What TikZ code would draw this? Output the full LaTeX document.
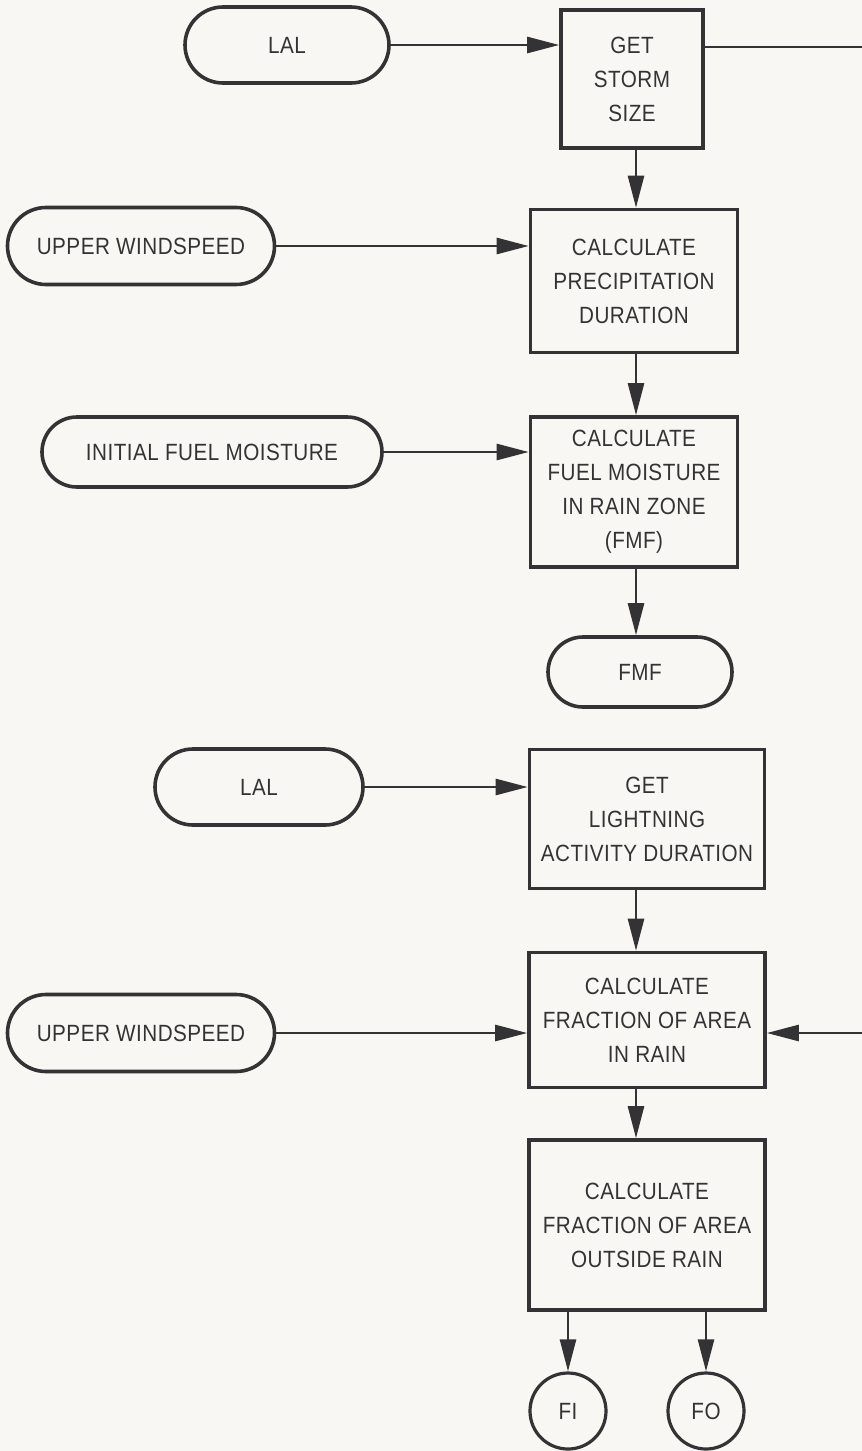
\documentclass[tikz,border=0pt]{standalone}
\usepackage{fontspec}
\setmainfont{Liberation Sans}[FakeStretch=0.88, LetterSpace=2]
\usetikzlibrary{shapes.misc,arrows.meta}
\definecolor{ink}{HTML}{333335}
\definecolor{paper}{HTML}{F8F7F3}
\begin{document}
\begin{tikzpicture}[x=1pt, y=-1pt,
        every node/.style = {font=\fontsize{23.5}{34}\selectfont, text=ink, align=center, inner sep=0pt},
        procbox/.style = {draw=ink, line width=3.6pt, rectangle},
        termbox/.style = {draw=ink, line width=3.6pt, rounded rectangle},
        endcirc/.style = {draw=ink, line width=3.2pt, circle, minimum size=76pt},
        flow/.style = {draw=ink, line width=2.6pt, -{Triangle[length=32pt, width=16pt]}}
    ]
        \useasboundingbox (0,0) rectangle (862,1451);
        \fill[paper] (0,0) rectangle (862,1451);

        % upper chain
        \node[termbox, minimum width=204pt, minimum height=76pt] (lal1) at (287,45) {LAL};
        \node[procbox, minimum width=142pt, minimum height=138pt] (storm) at (632,79) {GET\\STORM\\SIZE};
        \node[termbox, minimum width=267pt, minimum height=77pt] (wind1) at (141,246) {UPPER WINDSPEED};
        \node[procbox, minimum width=207pt, minimum height=143pt] (precip) at (634,281) {CALCULATE\\PRECIPITATION\\DURATION};
        \node[termbox, minimum width=340pt, minimum height=70pt] (initfm) at (212,452) {INITIAL FUEL MOISTURE};
        \node[procbox, minimum width=207pt, minimum height=150pt] (moist) at (634,492) {CALCULATE\\FUEL MOISTURE\\IN RAIN ZONE\\(FMF)};
        \node[termbox, minimum width=184pt, minimum height=70pt] (fmf) at (640,672) {FMF};
        \coordinate (stormout) at (862,47);

        % lower chain
        \node[termbox, minimum width=208pt, minimum height=76pt] (lal2) at (259,787) {LAL};
        \node[procbox, minimum width=235pt, minimum height=139pt] (light) at (647,819) {GET\\LIGHTNING\\ACTIVITY DURATION};
        \node[termbox, minimum width=267pt, minimum height=77pt] (wind2) at (141,1033) {UPPER WINDSPEED};
        \node[procbox, minimum width=236pt, minimum height=135pt] (inrain) at (647,1020) {CALCULATE\\FRACTION OF AREA\\IN RAIN};
        \node[procbox, minimum width=236pt, minimum height=170pt] (outrain) at (647,1225) {CALCULATE\\FRACTION OF AREA\\OUTSIDE RAIN};
        \node[endcirc] (fi) at (568,1411) {FI};
        \node[endcirc] (fo) at (706,1411) {FO};
        \coordinate (rainin) at (862,1033);

        \draw[flow] (lal1.east) -- (lal1.east -| storm.west);
        \draw[draw=ink, line width=2.6pt] (stormout -| storm.east) -- (stormout);
        \draw[flow] (storm.south -| 636,0) -- (precip.north -| 636,0);
        \draw[flow] (wind1.east) -- (wind1.east -| precip.west);
        \draw[flow] (precip.south -| 636,0) -- (moist.north -| 636,0);
        \draw[flow] (initfm.east) -- (initfm.east -| moist.west);
        \draw[flow] (moist.south -| 636,0) -- (fmf.north -| 636,0);

        \draw[flow] (lal2.east) -- (lal2.east -| light.west);
        \draw[flow] (light.south -| 636,0) -- (inrain.north -| 636,0);
        \draw[flow] (wind2.east) -- (wind2.east -| inrain.west);
        \draw[flow] (rainin) -- (rainin -| inrain.east);
        \draw[flow] (inrain.south -| 636,0) -- (outrain.north -| 636,0);
        \draw[flow] (outrain.south -| fi.north) -- (fi.north);
        \draw[flow] (outrain.south -| fo.north) -- (fo.north);
    \end{tikzpicture}
\end{document}
